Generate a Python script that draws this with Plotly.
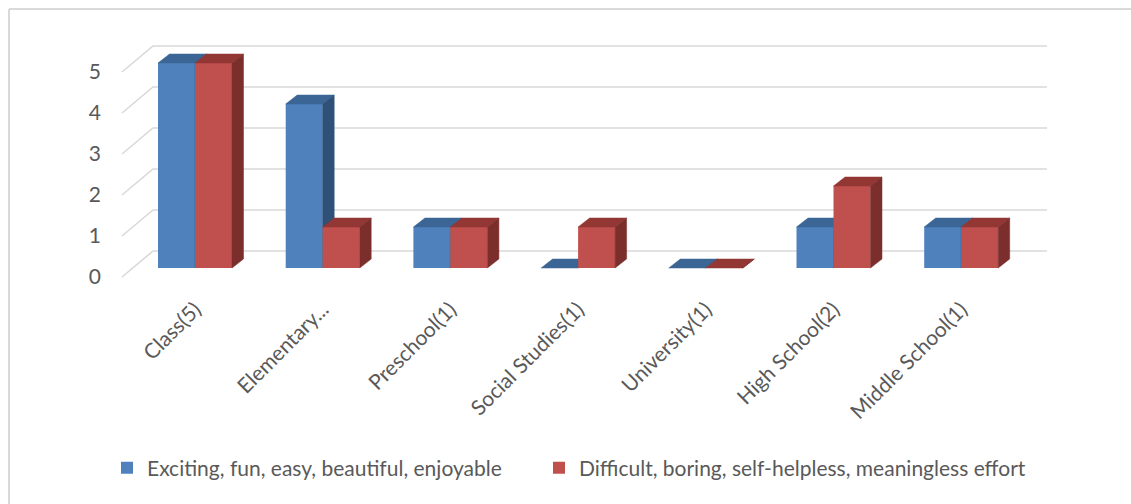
import plotly.graph_objects as go

# ---- data -------------------------------------------------------------
categories = ["Class(5)", "Elementary...", "Preschool(1)", "Social Studies(1)",
              "University(1)", "High School(2)", "Middle School(1)"]
positive = [5, 4, 1, 0, 0, 1, 1]
negative = [5, 1, 1, 1, 0, 2, 1]
series_names = ["Exciting, fun, easy, beautiful, enjoyable",
                "Difficult, boring, self-helpless, meaningless effort"]
y_ticks = [0, 1, 2, 3, 4, 5]

# ---- geometry (pixels) -------------------------------------------------
W, H = 1131, 504
PL, PR, PT, PB = 118, 1047, 40, 290      # plot frame
X0_PX, STEP_PX = 195, 127.7              # centre of first group, group pitch
BASE_PX, UNIT_PX = 268, 41.0             # value 0 on bar front plane, px per unit
BAR_PX = 37                              # width of one bar face
DEPTH_X_PX, DEPTH_Y_PX = 11.5, 9         # 3-D depth of a bar
WALL_FRONT_X, WALL_BACK_X = 122, 153     # floor/wall diagonal ends
WALL_FRONT_DY, WALL_BACK_DY = -9, 17     # wall offsets relative to bar plane

x_range = [(PL - X0_PX) / STEP_PX, (PR - X0_PX) / STEP_PX]
y_range = [(BASE_PX - PB) / UNIT_PX, (BASE_PX - PT) / UNIT_PX]
BW = BAR_PX / STEP_PX
DX = DEPTH_X_PX / STEP_PX
DY = DEPTH_Y_PX / UNIT_PX
front_off = WALL_FRONT_DY / UNIT_PX
back_off = WALL_BACK_DY / UNIT_PX
xf = (WALL_FRONT_X - X0_PX) / STEP_PX
xb = (WALL_BACK_X - X0_PX) / STEP_PX

FONT = "Lato"
TXT = "#595959"
GRID = "#d9d9d9"

styles = [
    dict(front="#4F81BD", top="#3B6594", side="#2F5179", offset=-BW, legend="legend"),
    dict(front="#C0504D", top="#933735", side="#7B2E2C", offset=0.0, legend="legend2"),
]


def faces(values, offset):
    """Polygons for the top and right-side faces of each bar."""
    tx, ty, sx, sy = [], [], [], []
    for i, v in enumerate(values):
        l = i + offset
        r = l + BW
        tx += [l, r, r + DX, l + DX, l, None]
        ty += [v, v, v + DY, v + DY, v, None]
        sx += [r, r, r + DX, r + DX, r, None]
        sy += [0, v, v + DY, DY, 0, None]
    return tx, ty, sx, sy


fig = go.Figure()
idx = list(range(len(categories)))
for k, (vals, name, st) in enumerate(zip([positive, negative], series_names, styles)):
    xa = "x" if k == 0 else "x2"
    ya = "y" if k == 0 else "y2"
    fig.add_trace(go.Bar(
        x=idx, y=vals, name=name, offset=st["offset"], width=BW,
        marker=dict(color=st["front"], line=dict(width=0)),
        xaxis=xa, yaxis=ya, legend=st["legend"], hoverinfo="skip"))
    tx, ty, sx, sy = faces(vals, st["offset"])
    fig.add_trace(go.Scatter(x=tx, y=ty, mode="lines", fill="toself",
                             fillcolor=st["top"], line=dict(color=st["top"], width=0.5),
                             showlegend=False, xaxis=xa, yaxis=ya, hoverinfo="skip"))
    fig.add_trace(go.Scatter(x=sx, y=sy, mode="lines", fill="toself",
                             fillcolor=st["side"], line=dict(color=st["side"], width=0.5),
                             showlegend=False, xaxis=xa, yaxis=ya, hoverinfo="skip"))

# back-wall gridlines with their diagonal returns to the front edge
shapes = []
for t in y_ticks:
    shapes.append(dict(
        type="path", xref="x", yref="y", layer="below",
        path=f"M {xf},{t + front_off} L {xb},{t + back_off} L {x_range[1]},{t + back_off}",
        line=dict(color=GRID, width=1.6)))


def px_to_paper(px, py):
    return (px - PL) / (PR - PL), (PB - py) / (PB - PT)


# chart frame (top and left edges)
x9, y9 = px_to_paper(9, 9)
xW, yH = px_to_paper(W, H)
shapes.append(dict(type="line", xref="paper", yref="paper", x0=x9, x1=x9, y0=y9, y1=yH,
                   line=dict(color=GRID, width=2)))
shapes.append(dict(type="line", xref="paper", yref="paper", x0=x9, x1=xW, y0=y9, y1=y9,
                   line=dict(color=GRID, width=2)))

legend_common = dict(orientation="h", xref="container", yref="container",
                     xanchor="left", y=1 - 468 / H, yanchor="middle",
                     font=dict(family=FONT, size=21, color=TXT),
                     itemclick=False, itemdoubleclick=False, bgcolor="rgba(0,0,0,0)")

fig.update_layout(
    width=W, height=H,
    margin=dict(l=PL, r=W - PR, t=PT, b=H - PB),
    paper_bgcolor="white", plot_bgcolor="white",
    font=dict(family=FONT, size=21, color=TXT),
    shapes=shapes,
    showlegend=True,
    legend=dict(x=107 / W, **legend_common),
    legend2=dict(x=539 / W, **legend_common),
    xaxis=dict(range=x_range, tickmode="array", tickvals=idx, ticktext=categories,
               tickangle=-45, showgrid=False, zeroline=False, showline=False,
               ticks="", automargin=False, fixedrange=True, ticklabelstandoff=2),
    yaxis=dict(range=y_range, tickmode="array",
               tickvals=[t + front_off for t in y_ticks], ticktext=[str(t) for t in y_ticks],
               showgrid=False, zeroline=False, showline=False, ticks="",
               automargin=False, fixedrange=True, ticklabelstandoff=16),
    xaxis2=dict(range=x_range, overlaying="x", visible=False, fixedrange=True),
    yaxis2=dict(range=y_range, overlaying="y", visible=False, fixedrange=True),
)

fig.write_html("out.html", config={"displayModeBar": False})
